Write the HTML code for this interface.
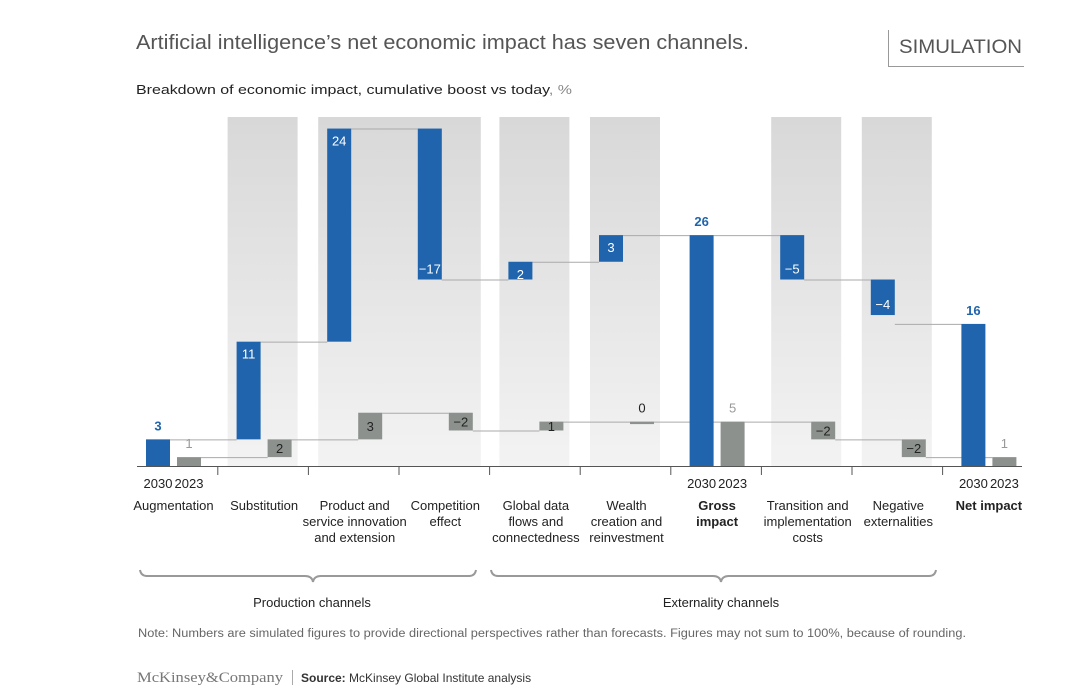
<!DOCTYPE html>
<html><head><meta charset="utf-8"><style>
html,body{margin:0;padding:0;background:#fff;}
svg{display:block;font-family:"Liberation Sans",Arial,sans-serif;}
</style></head><body>
<svg id="chart" width="1080" height="698" viewBox="0 0 1080 698" xmlns="http://www.w3.org/2000/svg">
<defs>
<linearGradient id="bandGrad" x1="0" y1="0" x2="0" y2="1">
<stop offset="0" stop-color="#d8d8d8"/><stop offset="1" stop-color="#f3f3f3"/>
</linearGradient>
</defs>
<text x="136" y="49" font-size="20" fill="#555" textLength="613" lengthAdjust="spacingAndGlyphs">Artificial intelligence’s net economic impact has seven channels.</text>
<g>
<line x1="888.5" y1="30" x2="888.5" y2="67" stroke="#999" stroke-width="1"/>
<line x1="888" y1="66.5" x2="1024" y2="66.5" stroke="#999" stroke-width="1"/>
<text x="899" y="53" font-size="19" fill="#555" textLength="123" lengthAdjust="spacingAndGlyphs">SIMULATION</text>
</g>
<text x="136" y="94" font-size="13" fill="#222" textLength="436" lengthAdjust="spacingAndGlyphs">Breakdown of economic impact, cumulative boost vs today<tspan fill="#888">, %</tspan></text>
<g id="bands"></g>
<g id="connectors"></g>
<g id="bars"></g>
<g id="axis"></g>
<g id="labels"></g>
<g fill="none" stroke="#999" stroke-width="2">
<path d="M140,570 Q141,576 147,576 L305,576 Q312,576 313,582 Q314,576 321,576 L469,576 Q475,576 476,570"/>
</g>
<text x="312" y="607" font-size="13" fill="#222" text-anchor="middle">Production channels</text>
<g fill="none" stroke="#999" stroke-width="2">
<path d="M491,570 Q492,576 498,576 L713,576 Q720,576 721,582 Q722,576 729,576 L929,576 Q935,576 936,570"/>
</g>
<text x="721" y="607" font-size="13" fill="#222" text-anchor="middle">Externality channels</text>
<text x="138" y="637" font-size="11.5" fill="#666" textLength="828" lengthAdjust="spacingAndGlyphs">Note: Numbers are simulated figures to provide directional perspectives rather than forecasts. Figures may not sum to 100%, because of rounding.</text>
<text x="137" y="682" font-size="15" fill="#777" font-family="Liberation Serif,serif" textLength="146" lengthAdjust="spacingAndGlyphs">McKinsey&amp;Company</text>
<line x1="292.5" y1="670" x2="292.5" y2="685" stroke="#aaa"/>
<text x="301" y="682" font-size="12" fill="#333"><tspan font-weight="bold">Source:</tspan> McKinsey Global Institute analysis</text>
</svg>
<script>
const categories = [["Augmentation"],["Substitution"],["Product and","service innovation","and extension"],["Competition","effect"],["Global data","flows and","connectedness"],["Wealth","creation and","reinvestment"],["Gross","impact"],["Transition and","implementation","costs"],["Negative","externalities"],["Net impact"]];
const values2030 = [3, 11, 24, -17, 2, 3, 26, -5, -4, 16];
const values2023 = [1, 2, 3, -2, 1, 0, 5, -2, -2, 1];
const isTotal = [true, false, false, false, false, false, true, false, false, true];
const bandIndices = [1, 4, 5, 7, 8];

const NS = "http://www.w3.org/2000/svg";
const BASE = 466, PXU = 8.88, X0 = 146, STEP = 90.6, BW = 24, OFF = 31;
const yS = v => BASE - v * PXU;
const xC = i => X0 + STEP * i;
function mk(tag, attrs, parent, txt){
  const e = document.createElementNS(NS, tag);
  for (const k in attrs) e.setAttribute(k, attrs[k]);
  if (txt !== undefined) e.textContent = txt;
  parent.appendChild(e); return e;
}
const gBands = document.getElementById('bands'), gConn = document.getElementById('connectors'),
      gBars = document.getElementById('bars'), gAxis = document.getElementById('axis'), gLab = document.getElementById('labels');

let b = mk('rect', {x: xC(2)-9, y: 117, width: xC(3)+BW+OFF+8-(xC(2)-9), height: BASE-117, fill: 'url(#bandGrad)'}, gBands);


bandIndices.forEach(i => {
  const r = mk('rect', {x: xC(i)-9, y: 117, width: 70, height: BASE-117, fill: 'url(#bandGrad)'}, gBands);
  
  
});

function series(vals, off, color, name, totColor, labColor){
  let cum = 0, prevTop = null, prevX = null;
  vals.forEach((v, i) => {
    let y0, y1;
    if (isTotal[i]) { cum = v; y0 = 0; y1 = v; }
    else { y0 = cum; cum += v; y1 = cum; }
    const x = xC(i) + off;
    const top = yS(Math.max(y0, y1)), bot = yS(Math.min(y0, y1));
    const h = Math.max(bot - top, 2.5);
    const r = mk('rect', {x: x, y: top, width: BW, height: h, fill: color}, gBars);
    
    
    if (prevTop !== null) {
      const yy = yS(isTotal[i] ? v : y0) + 0.5;
      const l = mk('line', {x1: prevX, y1: yy, x2: x, y2: yy, stroke: '#aaa', 'stroke-width': 1}, gConn);
      
      
    }
    prevTop = cum; prevX = x + BW;
    const txt = v < 0 ? '\u2212' + Math.abs(v) : String(v);
    let t;
    if (isTotal[i] || v === 0) {
      t = mk('text', {x: x + BW/2, y: top - 9, 'font-size': 13, 'text-anchor': 'middle', fill: totColor, 'font-weight': name==='y2030'?'bold':'normal'}, gLab, txt);
      if (v === 0) t.setAttribute('fill', '#222');
    } else if (name === 'y2030') {
      const ty = v > 0 ? top + 17 : bot - 6;
      t = mk('text', {x: x + BW/2, y: ty, 'font-size': 13, 'text-anchor': 'middle', fill: '#fff'}, gLab, txt);
    } else {
      t = mk('text', {x: x + BW/2, y: (top + bot)/2 + 5, 'font-size': 13, 'text-anchor': 'middle', fill: labColor}, gLab, txt);
    }
    
    
  });
}
series(values2030, 0, '#1f64ad', 'y2030', '#1f64ad', '#fff');
series(values2023, OFF, '#8c918e', 'y2023', '#999', '#222');

let ax = mk('line', {x1: 137, y1: BASE + 0.5, x2: 1022, y2: BASE + 0.5, stroke: '#555', 'stroke-width': 1}, gAxis);


for (let i = 1; i < categories.length; i++) {
  const tx = (xC(i-1) + BW + OFF + xC(i)) / 2 - 1;
  const tk = mk('line', {x1: tx, y1: BASE, x2: tx, y2: BASE + 9, stroke: '#555', 'stroke-width': 1}, gAxis);
  
  
}
categories.forEach((lines, i) => {
  const cx = xC(i) + (BW + OFF) / 2;
  if (isTotal[i]) {
    [['2030', 0], ['2023', OFF]].forEach(([yr, o]) => {
      const y = mk('text', {x: xC(i) + o + BW/2, y: 488, 'font-size': 13, 'text-anchor': 'middle', fill: '#222'}, gAxis, yr);
      
      
    });
  }
  lines.forEach((ln, j) => {
    const t = mk('text', {x: cx, y: 510 + 16 * j, 'font-size': 13, 'text-anchor': 'middle', fill: '#222', 'font-weight': (isTotal[i] && i > 0) ? 'bold' : 'normal'}, gAxis, ln);
    
    
  });
});
</script>
</body></html>
